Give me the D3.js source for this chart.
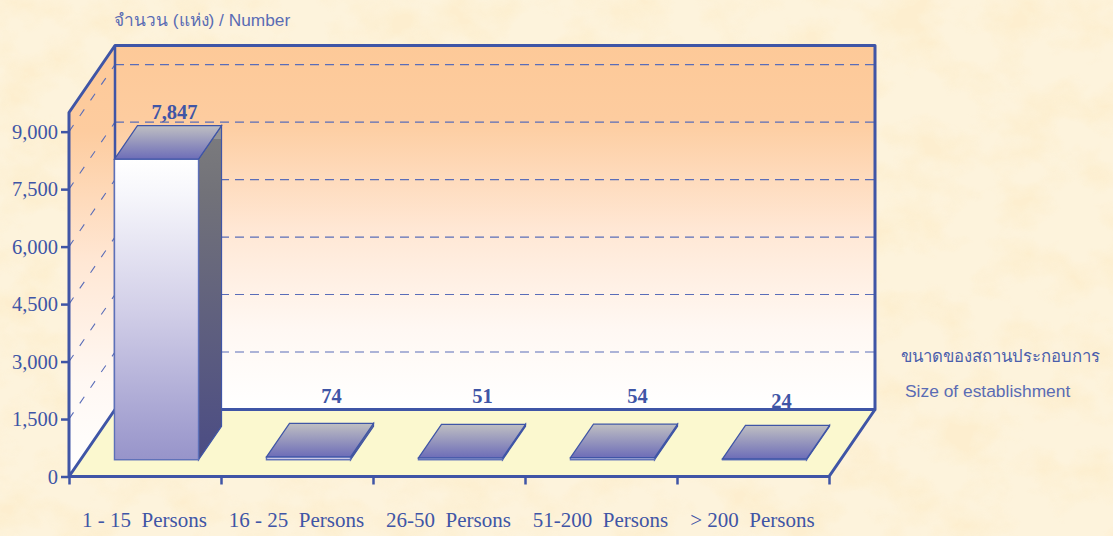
<!DOCTYPE html>
<html><head><meta charset="utf-8">
<script src="https://cdn.jsdelivr.net/npm/d3@7"></script>
<style>html,body{margin:0;padding:0;background:#fdf1d8;overflow:hidden}svg{display:block}</style>
</head><body><svg id="c" width="1113" height="536"></svg>
<script>
const categories = ["1 - 15  Persons","16 - 25  Persons","26-50  Persons","51-200  Persons","> 200  Persons"];
const values = [7847,74,51,54,24];
const valueLabels = ["7,847","74","51","54","24"];
const yTicks = [0,1500,3000,4500,6000,7500,9000];
const yMax = 9500;

const blue="#3f55a6";
const svg=d3.select("#c");
const defs=svg.append("defs");
function grad(id,stops){
  const g=defs.append("linearGradient").attr("id",id).attr("x1",0).attr("y1",0).attr("x2",0).attr("y2",1);
  stops.forEach(s=>g.append("stop").attr("offset",s[0]).attr("stop-color",s[1]));
}
grad("wall",[[0,"#fdc998"],[0.2,"#fdcc9f"],[0.5,"#ffe7d4"],[0.78,"#fff8f3"],[1,"#ffffff"]]);
grad("front",[[0,"#ffffff"],[0.12,"#f6f6fb"],[0.5,"#d2cfe8"],[1,"#9794ca"]]);
grad("side",[[0,"#949495"],[0.04,"#949495"],[0.041,"#7a7a7d"],[0.2,"#727279"],[1,"#4b4c84"]]);
grad("top",[[0,"#bfbfc2"],[1,"#6d6db8"]]);
const tex=defs.append("filter").attr("id","tex").attr("x",0).attr("y",0).attr("width","100%").attr("height","100%");
tex.append("feTurbulence").attr("type","fractalNoise").attr("baseFrequency","0.018 0.024").attr("numOctaves",4).attr("seed",7);
tex.append("feColorMatrix").attr("type","matrix").attr("values","0 0 0 0 0.98  0 0 0 0 0.84  0 0 0 0 0.58  3 0 0 0 -1.25");
svg.append("rect").attr("width",1113).attr("height",536).attr("fill","#fdf3dc");
svg.append("rect").attr("width",1113).attr("height",536).attr("filter","url(#tex)").attr("opacity",0.6);

const depthX=46, depthY=67;
const x=d3.scaleBand().domain(categories).range([69,829]).paddingInner(0).paddingOuter(0);
const y=d3.scaleLinear().domain([0,yMax]).range([476.5,112.5]);
const line=d3.line();
const x0=x.range()[0], x1=x.range()[1], y0=y(0), yT=y(yMax);

// walls and floor
svg.append("path").attr("d",line([[x0,y0],[x0,yT],[x0+depthX,yT-depthY],[x0+depthX,y0-depthY]])+"Z").attr("fill","url(#wall)");
svg.append("rect").attr("x",x0+depthX).attr("y",yT-depthY).attr("width",x1-x0).attr("height",y0-yT).attr("fill","url(#wall)");
svg.append("path").attr("d",line([[x0,y0],[x0+depthX,y0-depthY],[x1+depthX,y0-depthY],[x1,y0]])+"Z").attr("fill","#fbf8cf");

// gridlines
yTicks.filter(d=>d>0).forEach(d=>{
  svg.append("line").attr("x1",x0+depthX).attr("x2",x1+depthX).attr("y1",y(d)-depthY).attr("y2",y(d)-depthY)
    .attr("stroke","#5a6db8").attr("stroke-width",1.1).attr("stroke-dasharray","9 6");
  svg.append("line").attr("x1",x0).attr("x2",x0+depthX).attr("y1",y(d)).attr("y2",y(d)-depthY)
    .attr("stroke","#5a6db8").attr("stroke-width",1.1).attr("stroke-dasharray","8 11");
});

// frame
svg.append("path").attr("fill","none").attr("stroke",blue).attr("stroke-width",3).attr("stroke-linejoin","round")
  .attr("d",line([[x0,y0],[x0+depthX,y0-depthY],[x1+depthX,y0-depthY],[x1+depthX,yT-depthY],[x0+depthX,yT-depthY],[x0,yT],[x0,y0]]));
svg.append("path").attr("fill","none").attr("stroke",blue).attr("stroke-width",2.5)
  .attr("d",line([[x0+depthX,yT-depthY],[x0+depthX,y0-depthY]]));
svg.append("path").attr("fill","none").attr("stroke",blue).attr("stroke-width",3)
  .attr("d",line([[x1+depthX,y0-depthY],[x1,y0],[x0,y0]]));

// bars
const labelNudge=[[-3,-7],[23,-20],[22,-21],[25,-21],[17,-17]];
const barW=x.bandwidth()*0.553, dX=depthX/2, dY=depthY/2, offX=depthX/4, offY=depthY/4;
const bars=svg.selectAll("g.bar").data(values).join("g").attr("class","bar");
bars.each(function(v,i){
  const g=d3.select(this);
  const l=x(categories[i])+(x.bandwidth()-barW)/2+offX, r=l+barW, b=y(0)-offY, t=y(v)-offY;
  const w=1.2;
  g.append("path").attr("d",line([[r,b],[r,t],[r+dX,t-dY],[r+dX,b-dY]])+"Z").attr("fill","url(#side)").attr("stroke",blue).attr("stroke-width",w);
  g.append("rect").attr("x",l).attr("y",t).attr("width",barW).attr("height",b-t).attr("fill","url(#front)").attr("stroke","#5d70b8").attr("stroke-width",1.4);
  g.append("path").attr("d",line([[l,t],[l+dX,t-dY],[r+dX,t-dY],[r,t]])+"Z").attr("fill","url(#top)").attr("stroke",blue).attr("stroke-width",w);
  g.append("text").attr("x",l+barW/2+labelNudge[i][0]+(i?0:21)).attr("y",t-dY+labelNudge[i][1]).attr("text-anchor","middle")
    .attr("font-family","Liberation Serif").attr("font-weight","bold").attr("font-size",20.5).attr("fill",blue).text(valueLabels[i]);
});

// axes
const fmt=d3.format(",");
const ay=svg.append("g").attr("transform",`translate(${x0},0)`)
  .call(d3.axisLeft(y).tickValues(yTicks).tickFormat(fmt).tickSize(8).tickPadding(3));
ay.select(".domain").remove();
const ax=svg.append("g").attr("transform",`translate(0,${y0})`)
  .call(d3.axisBottom(d3.scaleLinear().domain([0,categories.length]).range([x0,x1])).tickValues(d3.range(categories.length+1)).tickFormat("").tickSize(8));
ax.select(".domain").remove();
[ay,ax].forEach(a=>{a.selectAll("line").attr("stroke",blue).attr("stroke-width",2.5);});
ay.selectAll("text").attr("font-family","Liberation Serif").attr("font-size",20.5).attr("fill",blue);

svg.append("g").selectAll("text").data(categories).join("text")
  .attr("x",d=>x(d)+x.bandwidth()/2-0.5).attr("y",527).attr("text-anchor","middle")
  .style("white-space","pre")
  .attr("font-family","Liberation Serif").attr("font-size",21).attr("fill",blue).text(d=>d);

const side="'Liberation Sans','Noto Sans','Noto Sans CJK SC',sans-serif";
svg.append("text").attr("x",114).attr("y",26).attr("font-family",side).attr("font-size",17.3).attr("fill","#5a6cb4").text("จำนวน (แห่ง) / Number");
svg.append("text").attr("x",901).attr("y",362).attr("font-family",side).attr("font-size",16.7).attr("fill","#4a5eac").text("ขนาดของสถานประกอบการ");
svg.append("text").attr("x",905).attr("y",397).attr("font-family",side).attr("font-size",17.4).attr("fill","#5a6cb4").text("Size of establishment");
</script></body></html>
